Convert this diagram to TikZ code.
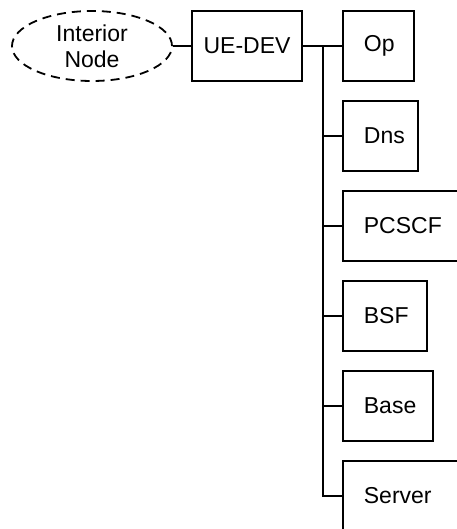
\documentclass[tikz,border=0pt]{standalone}
\usepackage{fontspec}
\setmainfont{Liberation Sans}
\usepackage{tikz}
\usetikzlibrary{shapes.geometric}

\begin{document}
\begin{tikzpicture}[x=0.5pt,y=-0.5pt,line width=0.9pt,
    font=\fontsize{11.5}{13}\selectfont,
    hub/.style={draw,minimum width=55pt,minimum height=35pt,inner sep=0pt},
    leaf/.style={draw,anchor=west,minimum height=35pt,inner xsep=0pt,
                 text width=#1,align=left,execute at begin node=\hspace*{10.5pt}},
    leaf/.default=35.5pt]
                 \useasboundingbox (0,0) rectangle (456,529);
                 \node[ellipse,draw,dash pattern=on 4.5pt off 3pt,inner sep=0pt,
                       minimum width=80pt,minimum height=35pt,align=center](int)at(92,46){Interior\\Node};
                 \node[hub](ue)at(247,46){UE-DEV};
                 \coordinate (bus) at (323,46);
                 \node[leaf](op)at(342,46){Op};
                 \node[leaf=37.5pt](dns)at(342,136){Dns};
                 \node[leaf=60pt](pcscf)at(342,226){PCSCF};
                 \node[leaf=42pt](bsf)at(342,316){BSF};
                 \node[leaf=45pt](base)at(342,406){Base};
                 \node[leaf=60pt](srv)at(342,496){Server};
                 \draw (int)--(ue);
                 \draw (ue)--(bus);
                 \draw (bus)--(op);
                 \draw (bus)|-(dns);
                 \draw (bus)|-(pcscf);
                 \draw (bus)|-(bsf);
                 \draw (bus)|-(base);
                 \draw (bus)|-(srv);
               \end{tikzpicture}
\end{document}
